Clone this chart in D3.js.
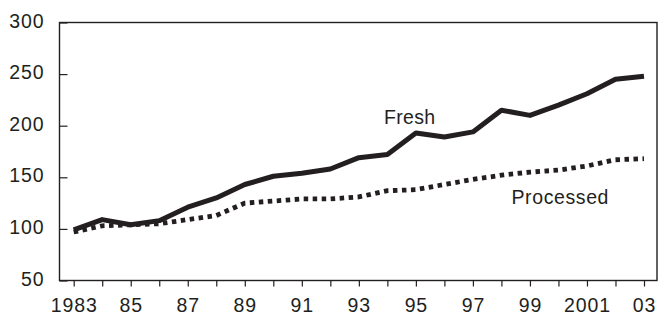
<!DOCTYPE html>
<html>
<head>
<meta charset="utf-8">
<script src="https://cdn.jsdelivr.net/npm/d3@7"></script>
<style>
  html, body { margin: 0; padding: 0; background: #fff; }
  text { font-family: 'Liberation Sans', Arial, sans-serif; fill: #231f20; }
</style>
</head>
<body>
<div id="chart"></div>
<script>
const years = d3.range(1983, 2004)
const fresh = [99, 109, 104, 108, 121, 130, 143, 151, 154, 158, 169, 172, 193, 189, 194, 215, 210, 220, 231, 245, 248]
const processed = [97, 103, 104, 105, 109, 113, 125, 127, 129, 129, 131, 137, 138, 143, 148, 152, 155, 157, 161, 167, 168]
const xTickLabels = { 1983: '1983', 1985: '85', 1987: '87', 1989: '89', 1991: '91', 1993: '93', 1995: '95', 1997: '97', 1999: '99', 2001: '2001', 2003: '03' }
const yTicks = [50, 100, 150, 200, 250, 300]

const width = 658
const height = 314
const box = { left: 59.5, right: 657, top: 22.5, bottom: 280.5 }

const svg = d3.select('#chart')
  .append('svg')
  .attr('width', width)
  .attr('height', height)

const x = d3.scaleLinear().domain([1983, 2003]).range([73.7, 644])
const y = d3.scaleLinear().domain([50, 300]).range([box.bottom, box.top])

// frame
svg.append('rect')
  .attr('x', box.left)
  .attr('y', box.top)
  .attr('width', box.right - box.left)
  .attr('height', box.bottom - box.top)
  .attr('fill', 'none')
  .attr('stroke', '#231f20')
  .attr('stroke-width', 1.4)

// x axis
const xAxis = svg.append('g')
  .attr('transform', `translate(0,${box.bottom})`)
  .call(d3.axisBottom(x)
    .tickValues(years)
    .tickSize(6)
    .tickSizeOuter(0)
    .tickFormat(d => xTickLabels[d] || ''))
xAxis.select('.domain').remove()
xAxis.selectAll('line').attr('stroke', '#231f20').attr('stroke-width', 1.2)
xAxis.selectAll('text')
  .attr('y', 31)
  .attr('dy', 0)
  .style('font-size', '19.5px')
  .style('letter-spacing', '0.9px')
  .attr('fill', '#231f20')

// y axis, ticks pointing inward
const yAxis = svg.append('g')
  .attr('transform', `translate(${box.left},0)`)
  .call(d3.axisLeft(y)
    .tickValues(yTicks)
    .tickSize(-8)
    .tickSizeOuter(0)
    .tickPadding(15))
yAxis.select('.domain').remove()
yAxis.selectAll('line').attr('stroke', '#231f20').attr('stroke-width', 1.2)
yAxis.selectAll('text')
  .attr('dy', '0.23em')
  .style('font-size', '19.5px')
  .style('letter-spacing', '0.9px')
  .attr('fill', '#231f20')

const line = d3.line()
  .x((d, i) => x(years[i]))
  .y(d => y(d))

svg.append('path')
  .datum(processed)
  .attr('fill', 'none')
  .attr('stroke', '#231f20')
  .attr('stroke-width', 4.8)
  .attr('stroke-dasharray', '4.5,4.5')
  .attr('d', line)

svg.append('path')
  .datum(fresh)
  .attr('fill', 'none')
  .attr('stroke', '#231f20')
  .attr('stroke-width', 5)
  .attr('stroke-linejoin', 'round')
  .attr('d', line)

// labels
svg.append('text')
  .attr('x', 384)
  .attr('y', 124)
  .style('font-size', '19.5px')
  .style('letter-spacing', '0.3px')
  .text('Fresh')

svg.append('text')
  .attr('x', 511.5)
  .attr('y', 204)
  .style('font-size', '19.5px')
  .style('letter-spacing', '0.6px')
  .text('Processed')
</script>
</body>
</html>
